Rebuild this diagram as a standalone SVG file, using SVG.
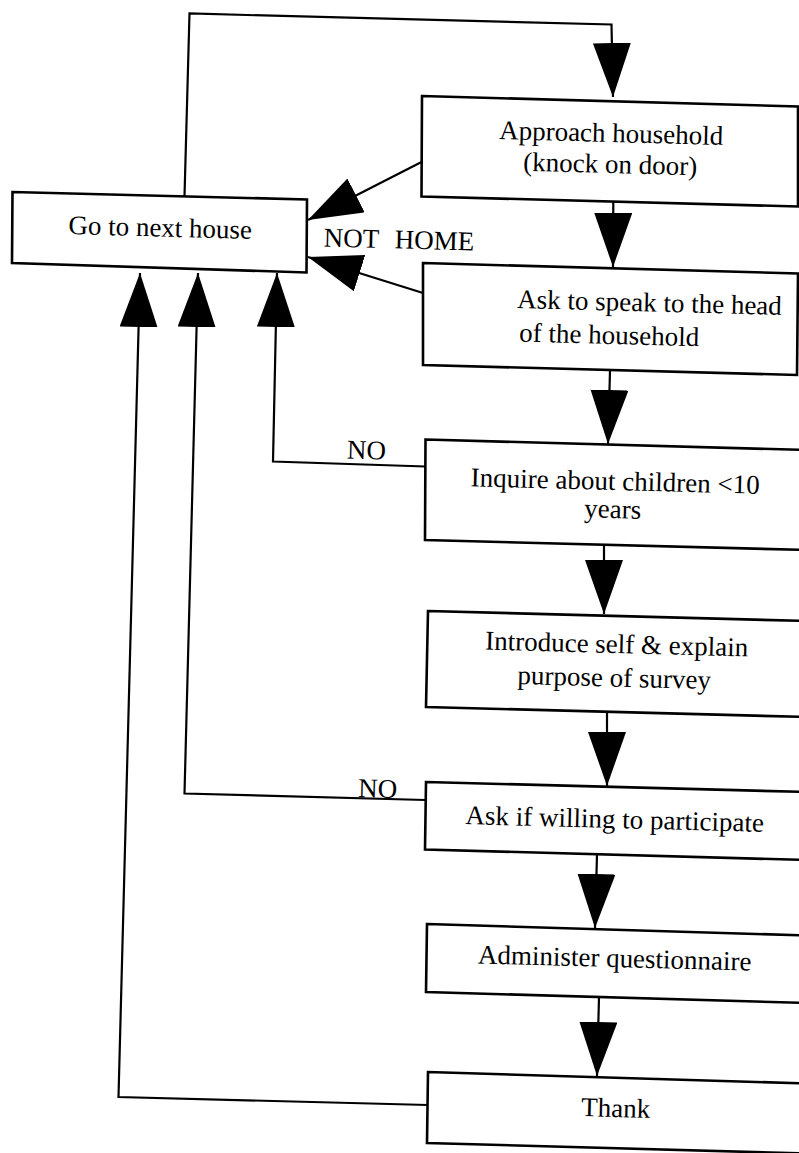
<svg xmlns="http://www.w3.org/2000/svg" width="799" height="1153" viewBox="0 0 799 1153">
<defs>
<style>
.box{fill:#fff;stroke:#000;stroke-width:2.6;stroke-linejoin:miter}
.t{font-family:"Liberation Serif","Times New Roman",serif;font-size:27px;fill:#000}
.m{text-anchor:middle}
.c{fill:none;stroke:#000;stroke-width:2.2}
</style>
<marker id="ah" markerUnits="userSpaceOnUse" markerWidth="54" markerHeight="38" viewBox="0 0 54 38" refX="54" refY="19" orient="auto">
<path d="M0,0 L54,19 L0,38 z" fill="#000"/>
</marker>
</defs>
<rect width="799" height="1153" fill="#fff"/>
<g id="connectors">
<path class="c" d="M184.5,196 L189.5,13.5 L611.5,24.5 L613,97" marker-end="url(#ah)"/>
<path class="c" d="M613.3,202 L613,267" marker-end="url(#ah)"/>
<path class="c" d="M610,371 L608,444" marker-end="url(#ah)"/>
<path class="c" d="M604,545 L604,614" marker-end="url(#ah)"/>
<path class="c" d="M607,712 L607,786" marker-end="url(#ah)"/>
<path class="c" d="M597,854.5 L595,928" marker-end="url(#ah)"/>
<path class="c" d="M599,997 L597,1076" marker-end="url(#ah)"/>
<path class="c" d="M421.5,162 L308,220" marker-end="url(#ah)"/>
<path class="c" d="M423,293 L308,257" marker-end="url(#ah)"/>
<path class="c" d="M425.5,466.5 L273,461.5 L277,273" marker-end="url(#ah)"/>
<path class="c" d="M425.5,800 L184.5,793.5 L198,273" marker-end="url(#ah)"/>
<path class="c" d="M428,1105 L118.5,1097 L140,273" marker-end="url(#ah)"/>
<text class="t" x="323.6" y="246.5" xml:space="preserve" style="word-spacing:1.25px" transform="rotate(1.5 323.6 246.5)">NOT  HOME</text>
<text class="t" x="346.7" y="458.5" transform="rotate(1.5 346.7 458.5)">NO</text>
<text class="t" x="358" y="797" transform="rotate(1.5 358 797)">NO</text>
</g>
<g id="go-next-house">
<polygon class="box" points="12.5,192 307,199.5 306.5,272.5 12,263"/>
<text class="t m" x="160" y="236.5" transform="rotate(1.5 160 236.5)">Go to next house</text>
</g>
<g id="approach-household">
<polygon class="box" points="422,96 798,106.5 798,206.5 421.5,196.5"/>
<text class="t m" x="611" y="142" transform="rotate(1.5 611 142)">Approach household</text>
<text class="t m" x="610" y="173" transform="rotate(1.5 610 173)">(knock on door)</text>
</g>
<g id="ask-head">
<polygon class="box" points="423,263 798,273.5 797,375 423,365"/>
<text class="t" x="517" y="308" transform="rotate(1.5 517 308)">Ask to speak to the head</text>
<text class="t" x="519" y="341.5" transform="rotate(1.5 519 341.5)">of the household</text>
</g>
<g id="inquire-children">
<polygon class="box" points="425.5,439.5 806,450 806,550 425,540"/>
<text class="t m" x="615" y="490" transform="rotate(1.5 615 490)">Inquire about children &lt;10</text>
<text class="t m" x="612.5" y="518" transform="rotate(1.5 612.5 518)">years</text>
</g>
<g id="introduce-self">
<polygon class="box" points="428,611 806,621 806,717 426,707"/>
<text class="t m" x="616.5" y="653" transform="rotate(1.5 616.5 653)">Introduce self &amp; explain</text>
<text class="t m" x="614" y="686.5" transform="rotate(1.5 614 686.5)">purpose of survey</text>
</g>
<g id="ask-willing">
<polygon class="box" points="426,782 806,792 806,860 425,849.5"/>
<text class="t m" x="614.5" y="828" transform="rotate(1.5 614.5 828)">Ask if willing to participate</text>
</g>
<g id="administer-questionnaire">
<polygon class="box" points="427,924 806,935.5 806,1003 426,992"/>
<text class="t m" x="614.5" y="967" transform="rotate(1.5 614.5 967)">Administer questionnaire</text>
</g>
<g id="thank">
<polygon class="box" points="428,1072 806,1083.5 806,1153.5 427,1143"/>
<text class="t m" x="615.5" y="1117" transform="rotate(1.5 615.5 1117)">Thank</text>
</g>
</svg>
